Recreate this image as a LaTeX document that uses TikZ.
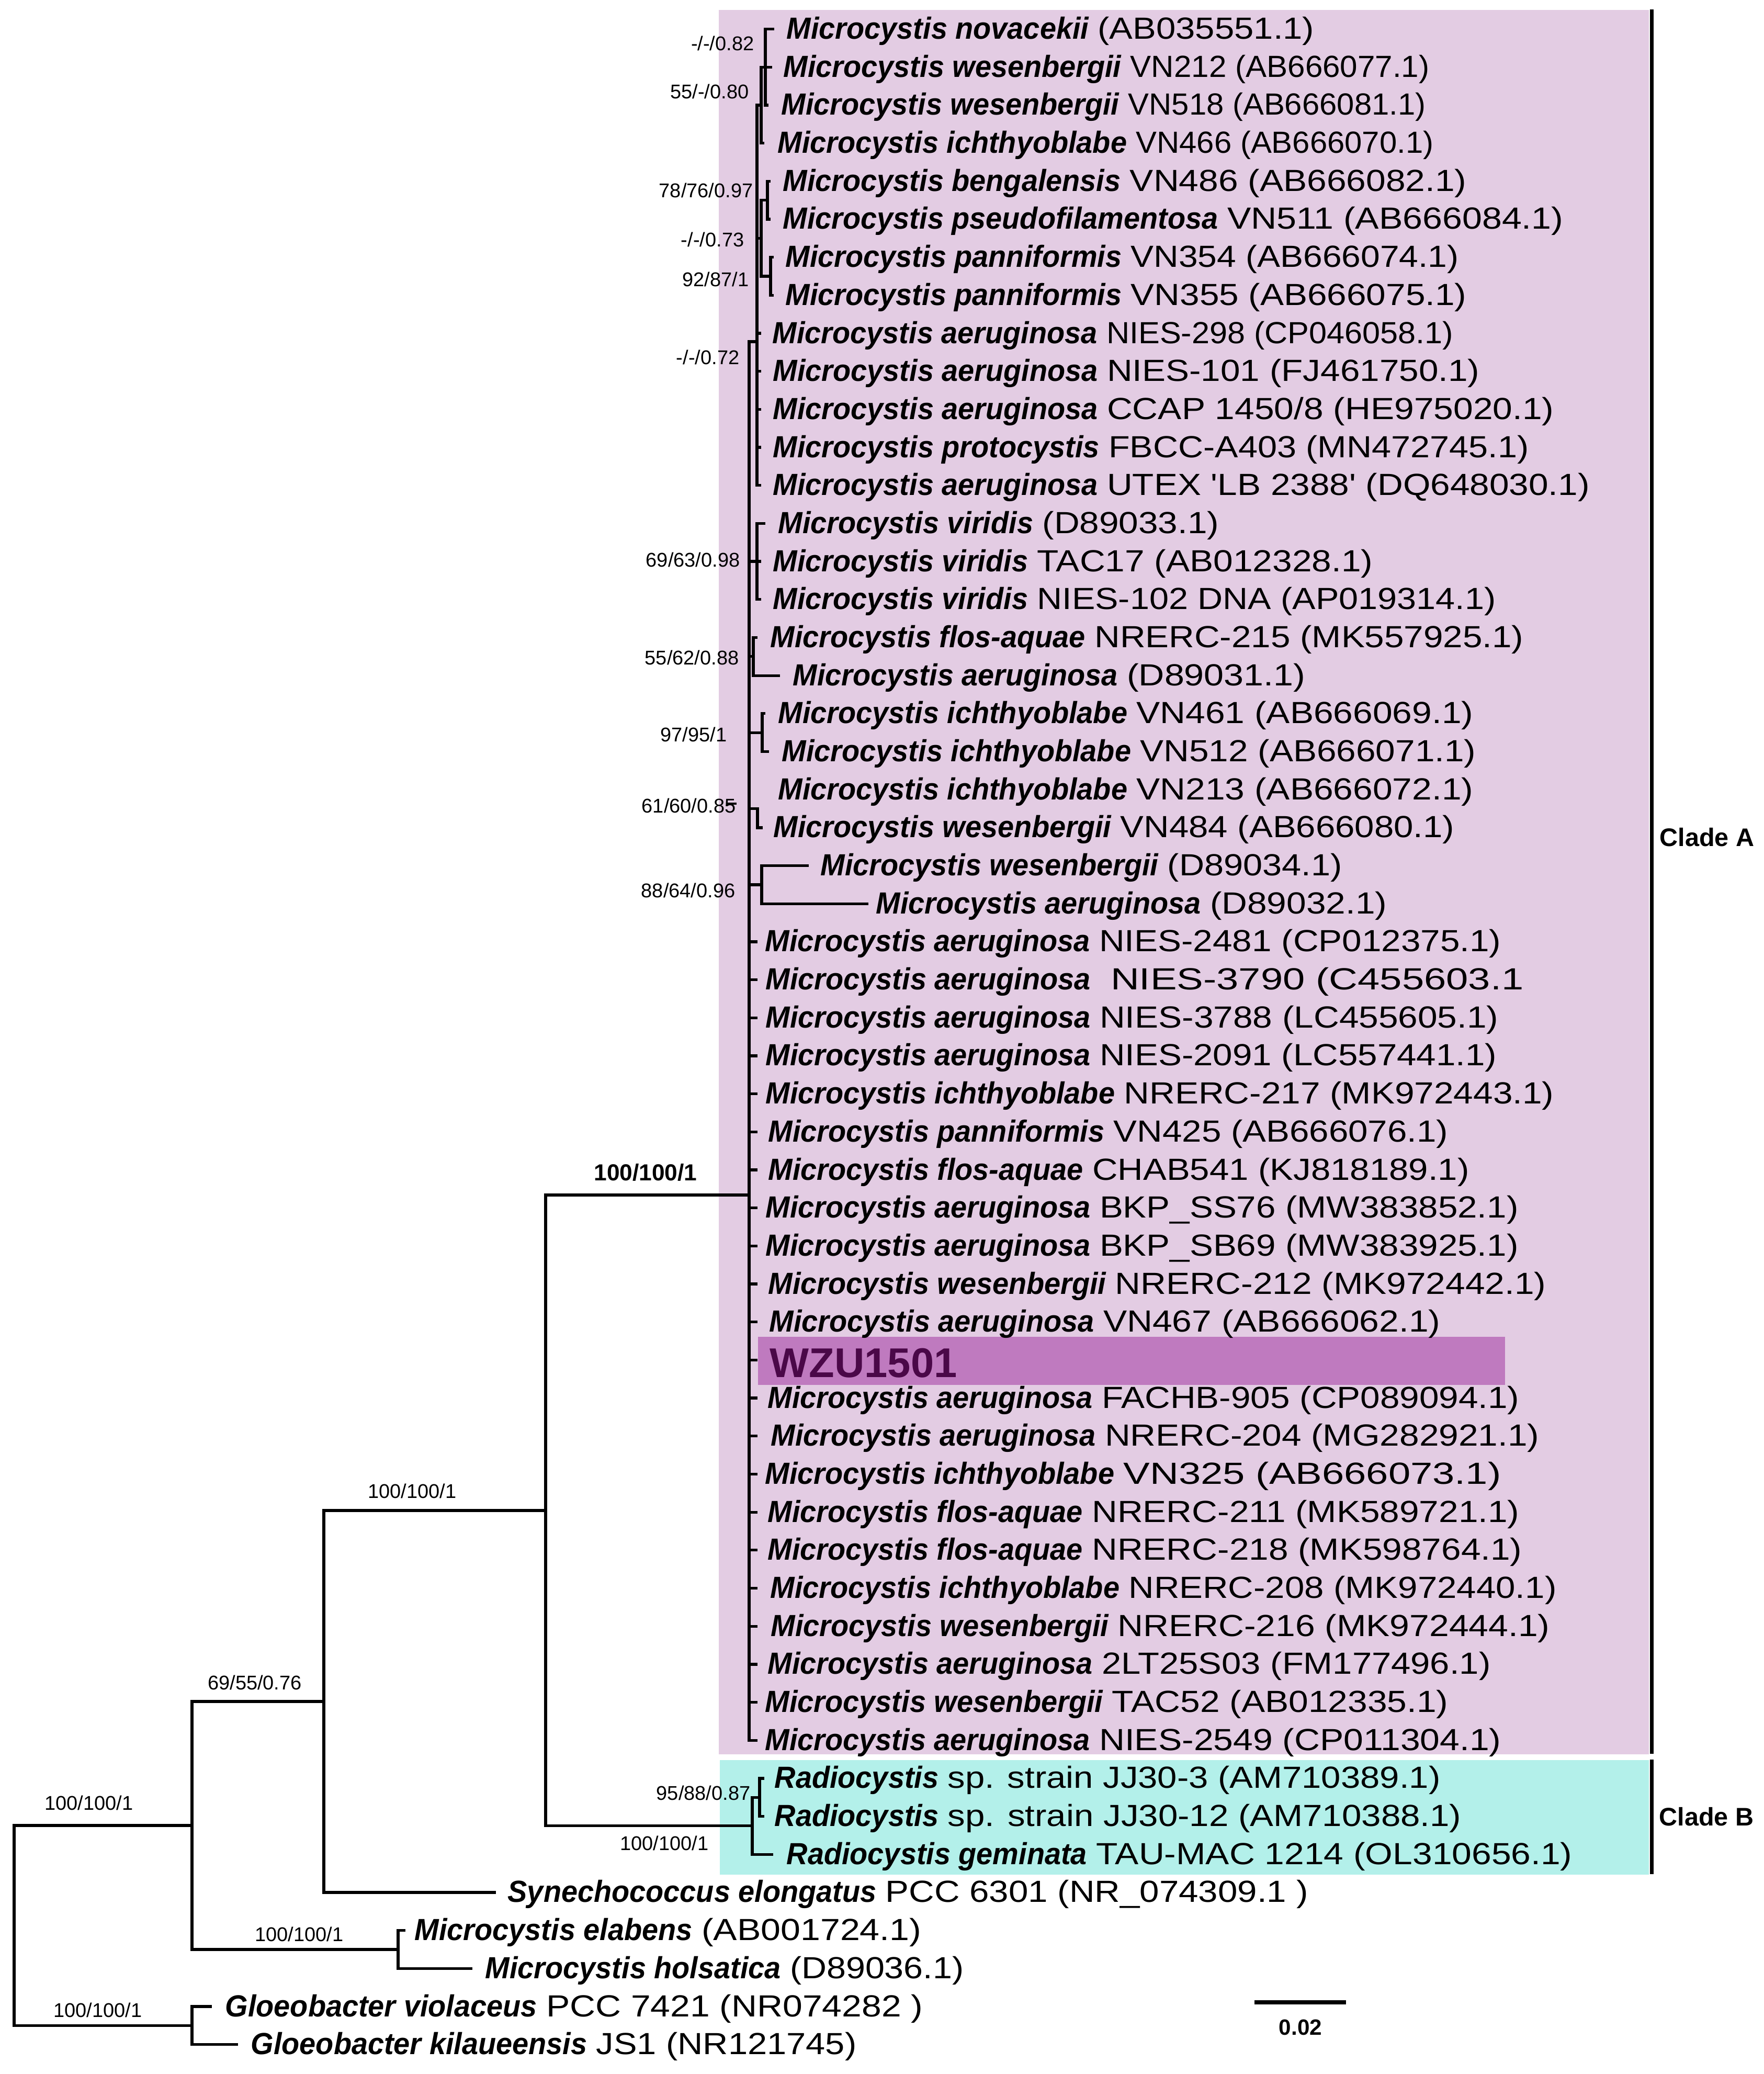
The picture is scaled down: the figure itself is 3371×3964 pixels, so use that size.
\documentclass[tikz,border=0pt]{standalone}
\usepackage{graphicx}
\usepackage{fontspec}
\setmainfont{Liberation Sans}[Ligatures=TeXOff]
\newfontfamily\regf{Liberation Sans}[Ligatures=TeXOff,FakeStretch=1.07]
\newfontfamily\bif{Liberation Sans}[Ligatures=TeXOff,FakeStretch=0.957]
\definecolor{cladeA}{RGB}{227,204,227}
\definecolor{cladeB}{RGB}{179,240,234}
\definecolor{wzubox}{RGB}{191,122,191}
\definecolor{wzutext}{RGB}{74,8,72}
\newcommand{\ry}[1]{(55.6+72.68*(#1-1))}
\newcommand{\Bi}[1]{{\bif\bfseries\itshape #1}}
\newlength\bwl \newlength\rwl
\newcommand{\fitrow}[4]{%
  \settowidth{\bwl}{\Bi{#3}\ }%
  \settowidth{\rwl}{#4}%
  \pgfmathsetmacro{\sxf}{(((#1)-(#2))*0.284528-\bwl)/\rwl}%
  \Bi{#3}\ \scalebox{\sxf}[1]{#4}}
\newcommand{\tx}[5]{\node[tax] (n#1) at (#2,{\ry{#1}+19}) {\fitrow{#3}{#2}{#4}{#5}};}
\begin{document}
\begin{tikzpicture}[x=0.01cm,y=-0.01cm,
  br/.style={line width=1.5pt,line cap=rect,line join=miter},
  tax/.style={anchor=base west,inner sep=0pt,font=\fontsize{16.6}{19}\selectfont\regf},
  sup/.style={anchor=east,inner sep=0pt,font=\fontsize{10.8}{12}\selectfont},
  supc/.style={anchor=center,inner sep=0pt,font=\fontsize{10.8}{12}\selectfont},
  clade/.style={anchor=west,inner sep=0pt,font=\fontsize{13.8}{16}\selectfont\bfseries},
  bracket/.style={line width=2pt}]
\useasboundingbox (0,0) rectangle (3371,3964);
% backgrounds
\fill[cladeA] (1374,19) rectangle (3152,3353);
\fill[cladeB] (1376,3364) rectangle (3152,3583);
\fill[wzubox] (1449,2555) rectangle (2877,2647);
% clade brackets
\coordinate (caT) at (3157,18); \coordinate (caB) at (3157,3352);
\coordinate (cbT) at (3157,3363); \coordinate (cbB) at (3157,3582);
\draw[bracket] (caT) -- (caB);
\draw[bracket] (cbT) -- (cbB);
\node[clade] (cla) at (3172,1600) {Clade A};
\node[clade] (clb) at (3171,3472) {Clade B};
% tip coordinates
\foreach \i/\x in {1/1477,2/1473,3/1466,4/1458,5/1470,6/1470,7/1476,8/1476,
  9/1452,10/1452,11/1452,12/1452,13/1452,14/1460,15/1452,16/1452,17/1445,18/1488,
  19/1460,20/1467,21/1452,22/1455,23/1543,24/1657,25/1445,26/1445,27/1445,28/1445,
  29/1445,30/1445,31/1445,32/1445,33/1445,34/1445,35/1445,36/1445,37/1445,38/1445,
  39/1445,40/1445,41/1445,42/1445,43/1445,44/1445,45/1445,46/1445,47/1458,48/1458,
  49/1475,50/945,51/772,52/900,53/402,54/452}
  \coordinate (t\i) at (\x,{\ry{\i}});
% internal nodes
\coordinate (X) at (1463,128.28);
\coordinate (Y) at (1455,200.96);
\coordinate (Bg) at (1467,382.66);
\coordinate (Pn) at (1473,528.02);
\coordinate (Z) at (1455,455.34);
\coordinate (W) at (1447,653);
\coordinate (V) at (1447,1073.12);
\coordinate (F) at (1440,1254.82);
\coordinate (I) at (1457,1400.18);
\coordinate (K) at (1448,1545.54);
\coordinate (D) at (1456,1690.9);
\coordinate (A) at (1432,2284);
\coordinate (Bs) at (1452,3435.22);
\coordinate (B) at (1438,3489.73);
\coordinate (N3) at (1043,2886.87);
\coordinate (N2) at (619,3251.9);
\coordinate (E) at (761,3725.94);
\coordinate (N1) at (367,3488.92);
\coordinate (G) at (367,3871.3);
\coordinate (R) at (27,3680.11);
% branches
\begin{scope}[br]
\draw (R) |- (N1); \draw (R) |- (G);
\draw (N1) |- (N2); \draw (N1) |- (E);
\draw (N2) |- (N3); \draw (N2) |- (t50);
\draw (N3) |- (A); \draw (N3) |- (B);
\draw (B) |- (Bs); \draw (B) |- (t49);
\draw (Bs) |- (t47); \draw (Bs) |- (t48);
\draw (E) |- (t51); \draw (E) |- (t52);
\draw (G) |- (t53); \draw (G) |- (t54);
\foreach \c in {W,V,F,I,K,D} \draw (A) |- (\c);
\foreach \i in {25,...,46} \draw (A) |- (t\i);
\draw (W) |- (Y); \draw (W) |- (Z);
\foreach \i in {9,...,13} \draw (W) |- (t\i);
\draw (Y) |- (X); \draw (Y) |- (t4);
\draw (X) |- (t1); \draw (X) |- (t2); \draw (X) |- (t3);
\draw (Z) |- (Bg); \draw (Z) |- (Pn);
\draw (Bg) |- (t5); \draw (Bg) |- (t6);
\draw (Pn) |- (t7); \draw (Pn) |- (t8);
\draw (V) |- (t14); \draw (V) |- (t15); \draw (V) |- (t16);
\draw (F) |- (t17); \draw (F) |- (t18);
\draw (I) |- (t19); \draw (I) |- (t20);
\draw (K) |- (t22);
\draw (D) |- (t23); \draw (D) |- (t24);
\end{scope}
\coordinate (sk1) at (1388,1536); \coordinate (sk2) at (1408,1536);
\draw[line width=1pt] (sk1) -- (sk2);
% support values
\node[sup] (s1) at (1442,83) {-/-/0.82};
\node[sup] (s2) at (1432,175) {55/-/0.80};
\node[sup] (s3) at (1440,364) {78/76/0.97};
\node[sup] (s4) at (1423,458) {-/-/0.73};
\node[sup] (s5) at (1432,534) {92/87/1};
\node[sup] (s6) at (1414,683) {-/-/0.72};
\node[sup] (s7) at (1415,1070) {69/63/0.98};
\node[sup] (s8) at (1413,1257) {55/62/0.88};
\node[sup] (s9) at (1390,1404) {97/95/1};
\node[sup] (s10) at (1407,1540) {61/60/0.85};
\node[sup] (s11) at (1406,1702) {88/64/0.96};
\node[sup] (s12) at (1435,3427) {95/88/0.87};
\node[supc] (s13) at (1270,3523) {100/100/1};
\node[supc,font=\fontsize{12.6}{14}\selectfont\bfseries] (s14) at (1234,2241) {100/100/1};
\node[supc] (s15) at (788,2850) {100/100/1};
\node[supc] (s16) at (487,3216) {69/55/0.76};
\node[supc] (s17) at (170,3446) {100/100/1};
\node[supc] (s18) at (572,3697) {100/100/1};
\node[supc] (s19) at (187,3842) {100/100/1};
% taxa: row, start x, end x, bold part, rest
\tx{1}{1503}{2511}{Microcystis novacekii}{(AB035551.1)}
\tx{2}{1497}{2731}{Microcystis wesenbergii}{VN212 (AB666077.1)}
\tx{3}{1493}{2724}{Microcystis wesenbergii}{VN518 (AB666081.1)}
\tx{4}{1486}{2739}{Microcystis ichthyoblabe}{VN466 (AB666070.1)}
\tx{5}{1496}{2802}{Microcystis bengalensis}{VN486 (AB666082.1)}
\tx{6}{1496}{2987}{Microcystis pseudofilamentosa}{VN511 (AB666084.1)}
\tx{7}{1501}{2787}{Microcystis panniformis}{VN354 (AB666074.1)}
\tx{8}{1501}{2802}{Microcystis panniformis}{VN355 (AB666075.1)}
\tx{9}{1476}{2777}{Microcystis aeruginosa}{NIES-298 (CP046058.1)}
\tx{10}{1477}{2827}{Microcystis aeruginosa}{NIES-101 (FJ461750.1)}
\tx{11}{1477}{2969}{Microcystis aeruginosa}{CCAP 1450/8 (HE975020.1)}
\tx{12}{1477}{2921}{Microcystis protocystis}{FBCC-A403 (MN472745.1)}
\tx{13}{1477}{3037}{Microcystis aeruginosa}{UTEX 'LB 2388' (DQ648030.1)}
\tx{14}{1487}{2329}{Microcystis viridis}{(D89033.1)}
\tx{15}{1477}{2623}{Microcystis viridis}{TAC17 (AB012328.1)}
\tx{16}{1477}{2858}{Microcystis viridis}{NIES-102 DNA (AP019314.1)}
\tx{17}{1472}{2911}{Microcystis flos-aquae}{NRERC-215 (MK557925.1)}
\tx{18}{1515}{2494}{Microcystis aeruginosa}{(D89031.1)}
\tx{19}{1487}{2815}{Microcystis ichthyoblabe}{VN461 (AB666069.1)}
\tx{20}{1494}{2820}{Microcystis ichthyoblabe}{VN512 (AB666071.1)}
\tx{21}{1487}{2815}{Microcystis ichthyoblabe}{VN213 (AB666072.1)}
\tx{22}{1478}{2779}{Microcystis wesenbergii}{VN484 (AB666080.1)}
\tx{23}{1568}{2564}{Microcystis wesenbergii}{(D89034.1)}
\tx{24}{1674}{2650}{Microcystis aeruginosa}{(D89032.1)}
\tx{25}{1462}{2868}{Microcystis aeruginosa}{NIES-2481 (CP012375.1)}
\tx{26}{1463}{2911}{Microcystis aeruginosa}{\ NIES-3790 (C455603.1}
\tx{27}{1463}{2863}{Microcystis aeruginosa}{NIES-3788 (LC455605.1)}
\tx{28}{1463}{2860}{Microcystis aeruginosa}{NIES-2091 (LC557441.1)}
\tx{29}{1463}{2969}{Microcystis ichthyoblabe}{NRERC-217 (MK972443.1)}
\tx{30}{1468}{2767}{Microcystis panniformis}{VN425 (AB666076.1)}
\tx{31}{1468}{2807}{Microcystis flos-aquae}{CHAB541 (KJ818189.1)}
\tx{32}{1463}{2901}{Microcystis aeruginosa}{BKP\_SS76 (MW383852.1)}
\tx{33}{1463}{2901}{Microcystis aeruginosa}{BKP\_SB69 (MW383925.1)}
\tx{34}{1468}{2954}{Microcystis wesenbergii}{NRERC-212 (MK972442.1)}
\tx{35}{1470}{2752}{Microcystis aeruginosa}{VN467 (AB666062.1)}
\node[anchor=base west,inner sep=0pt,font=\fontsize{22.6}{26}\selectfont\bfseries,text=wzutext] (n36) at (1471,2632) {WZU1501};
\tx{37}{1467}{2903}{Microcystis aeruginosa}{FACHB-905 (CP089094.1)}
\tx{38}{1473}{2941}{Microcystis aeruginosa}{NRERC-204 (MG282921.1)}
\tx{39}{1462}{2868}{Microcystis ichthyoblabe}{VN325 (AB666073.1)}
\tx{40}{1467}{2903}{Microcystis flos-aquae}{NRERC-211 (MK589721.1)}
\tx{41}{1467}{2908}{Microcystis flos-aquae}{NRERC-218 (MK598764.1)}
\tx{42}{1472}{2974}{Microcystis ichthyoblabe}{NRERC-208 (MK972440.1)}
\tx{43}{1473}{2961}{Microcystis wesenbergii}{NRERC-216 (MK972444.1)}
\tx{44}{1467}{2848}{Microcystis aeruginosa}{2LT25S03 (FM177496.1)}
\tx{45}{1462}{2767}{Microcystis wesenbergii}{TAC52 (AB012335.1)}
\tx{46}{1462}{2868}{Microcystis aeruginosa}{NIES-2549 (CP011304.1)}
\tx{47}{1480}{2752}{Radiocystis}{sp. strain JJ30-3 (AM710389.1)}
\tx{48}{1480}{2792}{Radiocystis}{sp. strain JJ30-12 (AM710388.1)}
\tx{49}{1503}{3004}{Radiocystis geminata}{TAU-MAC 1214 (OL310656.1)}
\tx{50}{970}{2499}{Synechococcus elongatus}{PCC 6301 (NR\_074309.1 )}
\tx{51}{792}{1760}{Microcystis elabens}{(AB001724.1)}
\tx{52}{927}{1841}{Microcystis holsatica}{(D89036.1)}
\tx{53}{430}{1763}{Gloeobacter violaceus}{PCC 7421 (NR074282 )}
\tx{54}{479}{1636}{Gloeobacter kilaueensis}{JS1 (NR121745)}
% scale bar
\coordinate (sbL) at (2398,3827); \coordinate (sbR) at (2573,3827);
\draw[line width=2.5pt] (sbL) -- (sbR);
\node[anchor=center,inner sep=0pt,font=\fontsize{12}{14}\selectfont\bfseries] (sbt) at (2486,3875) {0.02};
\end{tikzpicture}
\end{document}
